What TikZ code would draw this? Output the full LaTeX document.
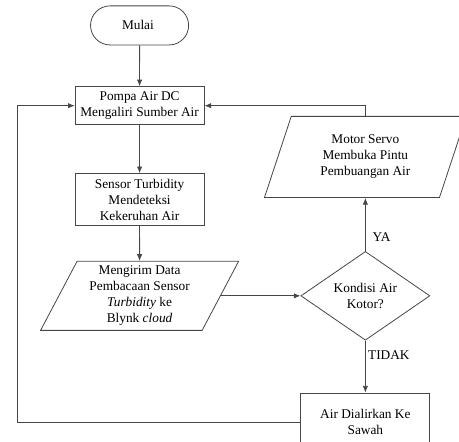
\documentclass[tikz,border=0pt]{standalone}
\usepackage{fontspec}
\setmainfont{Liberation Serif}
\newfontfamily\flowfont{Liberation Serif}
\usetikzlibrary{
  shapes.misc,
  shapes.geometric,
  positioning,
  calc,
  arrows.meta}
\definecolor{linecolor}{RGB}{70,70,70}
\tikzset{
  connection_arrow/.style={-{Latex[length=5pt,width=4pt]}, line width=0.6pt, linecolor}
}
\tikzset{
  %% terminal : start of the flow
  terminal/.style={
    rounded rectangle,
    draw=linecolor,
    line width=0.6pt,
    minimum width=2.82cm,
    minimum height=1.03cm,
    align=center
  },
  %% process : a processing step
  process/.style={
    rectangle,
    draw=linecolor,
    line width=0.6pt,
    minimum width=3.4cm,
    minimum height=1.0cm,
    align=center
  },
  %% inout : data in / out
  inout/.style={
    trapezium,
    trapezium left angle=62,
    trapezium right angle=118,
    trapezium stretches body,
    draw=linecolor,
    line width=0.6pt,
    minimum width=5.22cm,
    minimum height=1.82cm,
    align=center
  },
  %% decision : the check
  decision/.style={
    diamond,
    draw=linecolor,
    line width=0.6pt,
    inner sep=0pt,
    minimum width=3.4cm,
    minimum height=2.11cm,
    align=center
  },
  %% branch : yes / no labels
  branch/.style={
    inner sep=1pt,
    anchor=west
  }
}

\begin{document}
\begin{tikzpicture}
  [x=1cm,
  y=-1cm,
  align=center,
  font=\flowfont,
  node distance=1cm and 2cm]

  \useasboundingbox (-3.68, -0.67) rectangle (8.42, 10.96);

  %% Main flow
  \node (mulai) [terminal]{%
    Mulai
  };

  \node (pompa) [below=1.08cm of mulai, process]{%
    Pompa Air DC\\Mengaliri Sumber Air
  };

  \node (sensor) [below=1.27cm of pompa, process, minimum height=1.37cm]{%
    Sensor Turbidity\\Mendeteksi\\Kekeruhan Air
  };

  \node (kirim) [below=0.92cm of sensor, inout]{%
    Mengirim Data\\Pembacaan Sensor\\\textit{Turbidity} ke\\Blynk \textit{cloud}
  };

  \node (kondisi) [right=2.1cm of kirim, decision]{%
    Kondisi Air\\Kotor?
  };

  \node (servo) [above=1.4cm of kondisi, inout, minimum width=5.32cm,
    minimum height=2.14cm, trapezium left angle=63, trapezium right angle=117]{%
    Motor Servo\\Membuka Pintu\\Pembuangan Air
  };

  \node (sawah) [below=1.37cm of kondisi, process, minimum height=1.55cm]{%
    Air Dialirkan Ke\\Sawah
  };

  %% Labels of the decision
  \node (ya) [right=0.15cm of kondisi.north, yshift=0.37cm, branch]{YA};
  \node (tidak) [right=0.03cm of kondisi.south, yshift=-0.37cm, branch]{TIDAK};

  %% Connections
  \draw [connection_arrow] (mulai) -- (pompa);
  \draw [connection_arrow] (pompa) -- (sensor);
  \draw [connection_arrow] (sensor) -- (kirim);
  \draw [connection_arrow] (kirim.east) -- (kondisi.west);
  \draw [connection_arrow] (kondisi.north) -- (servo.south);
  \draw [connection_arrow] (kondisi.south) -- (sawah.north);

  %% Loops back to the pump
  \draw [connection_arrow] (servo.north) |- (pompa.east);
  \draw [connection_arrow] (sawah.west) -- ++(-7.46, 0) |- (pompa.west);

\end{tikzpicture}
\end{document}
